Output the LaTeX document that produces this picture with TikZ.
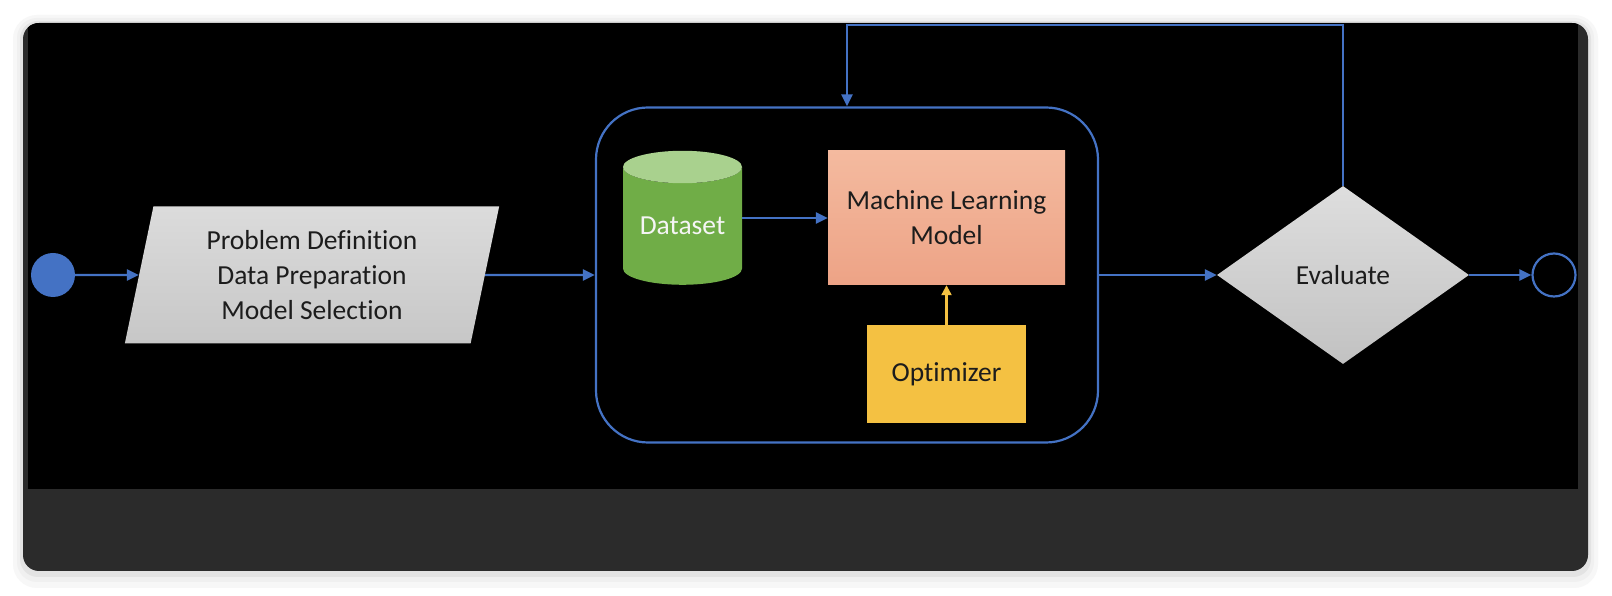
\documentclass[tikz,border=0pt]{standalone}
\usepackage{fontspec}
\setmainfont{Carlito}[Ligatures=NoCommon]
\usepackage{tikz}
\usetikzlibrary{arrows.meta,calc,positioning,shapes.geometric}
\definecolor{flowblue}{HTML}{4472C4}
\definecolor{cardgray}{HTML}{2B2B2B}
\definecolor{textgray}{HTML}{1C1C1C}
\definecolor{dsgreen}{HTML}{70AD47}
\definecolor{dstop}{HTML}{A9D18E}
\definecolor{mltop}{HTML}{F4BA9F}
\definecolor{mlbottom}{HTML}{EDA386}
\definecolor{optyellow}{HTML}{F4C142}
\newcommand{\diagfont}{\fontsize{27.5}{35}\selectfont}
\tikzset{%
	startnode/.style = {circle, fill=flowblue, minimum size=44pt, inner sep=0pt},
	stopnode/.style  = {circle, draw=flowblue, line width=2.2pt, minimum size=43pt, inner sep=0pt},
	inout/.style     = {trapezium, trapezium left angle=78, trapezium right angle=102, trapezium stretches=true, minimum width=375pt, minimum height=137pt, inner sep=0pt, top color=black!14, bottom color=black!22, text=textgray, align=center, font=\diagfont},
	group/.style     = {draw=flowblue, line width=2.2pt, rounded corners=52pt, minimum width=502pt, minimum height=335pt, inner sep=0pt},
	database/.style  = {cylinder, shape border rotate=90, aspect=0.38, cylinder uses custom fill, cylinder body fill=dsgreen, cylinder end fill=dstop, minimum width=119pt, minimum height=134pt, inner sep=0pt, text=black!4, font=\diagfont},
	process/.style   = {rectangle, minimum width=237pt, minimum height=134pt, inner sep=0pt, top color=mltop, bottom color=mlbottom, text=textgray, align=center, font=\diagfont},
	optbox/.style    = {rectangle, fill=optyellow, minimum width=159pt, minimum height=98pt, inner sep=0pt, text=textgray, font=\diagfont},
	decision/.style  = {diamond, aspect=1.42, minimum width=252pt, minimum height=178pt, inner sep=0pt, top color=black!13, bottom color=black!24, text=textgray, font=\diagfont},
	flow/.style      = {line width=2.4pt, draw=flowblue, -{Triangle[length=12pt,width=11pt]}},
	optflow/.style   = {line width=2.2pt, draw=optyellow, -{Triangle[length=10pt,width=10pt]}},
}
\begin{document}
\begin{tikzpicture}[x=1pt, y=1pt]
		\useasboundingbox (0,0) rectangle (1612,596);
		\fill[white] (0,0) rectangle (1612,596);
		\fill[black!3, rounded corners=24pt] (13,8) rectangle (1598,581);
		\fill[black!6, rounded corners=20pt] (17,14) rectangle (1594,578);
		\fill[black!11, rounded corners=18pt] (20,19) rectangle (1591,575);
		\fill[cardgray, rounded corners=16pt] (23,25) rectangle (1588,573);
		\begin{scope}
			\clip[rounded corners=16pt] (23,25) rectangle (1588,573);
			\fill[black] (28,107) rectangle (1578,573);
		\end{scope}
		
		\node[startnode] (start) at (53,321) {};
		\node[inout, right of=start, node distance=259pt] (prep) {Problem Definition\\Data Preparation\\Model Selection};
		\node[group, right of=prep, node distance=535pt] (train) {};
		\node[database] (data) at ($(train)+(-164.5,49)$) {Dataset};
		\node[process] (ml) at ($(train)+(99.5,57)$) {Machine Learning\\Model};
		\node[optbox, below of=ml, node distance=156pt] (opt) {Optimizer};
		\node[decision, right of=train, node distance=496pt] (eval) {Evaluate};
		\node[stopnode, right of=eval, node distance=211pt] (stop) {};
		
		\draw[flow] (start) -- (prep);
		\draw[flow] (prep) -- (train);
		\draw[flow] (data.east |- ml.west) -- (ml.west);
		\draw[optflow] (opt) -- (ml);
		\draw[flow] (train) -- (eval);
		\draw[flow] (eval) -- (stop);
		\draw[flow] (eval.north) -- ++(0,161) -| (train.north);
		\end{tikzpicture}
\end{document}
